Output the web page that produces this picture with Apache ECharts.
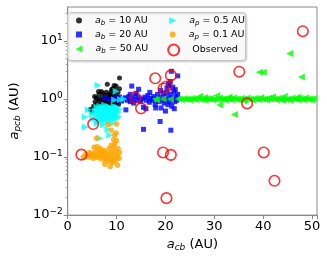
<!DOCTYPE html>
<html>
<head>
<meta charset="utf-8">
<script src="https://cdn.jsdelivr.net/npm/echarts@6/dist/echarts.min.js"></script>
<style>html,body{margin:0;padding:0;background:#fff}#c{width:327px;height:257px}</style>
</head>
<body>
<div id="c"></div>
<script>
// a_b = 10 AU (black dots)
const ab10 = [[4.6,0.66],[5.0,0.6],[5.3,0.75],[5.6,0.9],[5.8,1.05],[6.0,0.82],[6.2,1.0],[6.4,1.2],[6.5,0.95],[6.7,0.78],[6.9,1.34],[7.0,0.88],[7.2,1.25],[7.3,0.98],[7.5,0.8],[7.6,1.15],[7.8,0.92],[7.9,1.3],[8.1,1.8],[8.1,1.05],[8.2,0.85],[8.4,1.2],[8.5,0.8],[8.6,1.0],[8.8,1.3],[8.9,0.9],[9.0,1.1],[9.1,0.78],[9.2,1.5],[9.3,0.95],[9.4,1.25],[9.5,1.7],[9.6,0.85],[9.7,1.05],[9.8,1.4],[9.9,0.82],[10.0,1.15],[10.2,0.95],[10.3,1.3],[10.6,2.3],[10.4,0.8],[9.9,1.67],[10.6,1.5],[9.0,1.45],[7.3,0.7],[6.0,0.72],[5.5,1.1],[6.3,1.35],[8.3,0.7],[10.6,1.05],[7.7,1.0],[7.0,1.05],[8.7,1.15],[9.5,1.0]];
// a_b = 20 AU (blue squares)
const ab20 = [[7.6,1.04],[8.5,0.98],[9.4,1.02],[9.8,1.0],[10.2,0.95],[10.6,1.08],[11.0,0.92],[11.4,1.0],[11.8,1.05],[11.9,0.65],[12.2,0.95],[12.5,1.1],[12.8,0.9],[12.8,1.2],[13.1,1.67],[13.2,1.0],[13.5,0.85],[13.8,1.12],[14.0,1.25],[14.1,0.95],[14.5,1.47],[14.6,1.05],[14.9,0.9],[15.2,1.0],[15.5,0.72],[15.8,1.08],[16.0,0.68],[16.1,0.95],[16.4,1.15],[16.7,0.88],[16.8,1.3],[17.0,1.02],[17.3,0.95],[17.6,1.1],[17.9,0.8],[18.0,0.7],[18.1,1.0],[18.4,1.2],[18.6,0.9],[18.9,1.05],[19.0,1.4],[19.1,0.7],[19.3,0.95],[19.5,1.25],[19.7,0.85],[19.9,1.1],[20.0,0.62],[20.1,0.95],[20.3,1.3],[20.3,1.55],[20.5,0.8],[20.6,1.8],[20.7,1.05],[20.8,1.7],[20.9,0.9],[21.0,2.0],[21.1,1.2],[21.2,3.0],[21.3,0.75],[21.5,1.0],[21.5,1.6],[21.7,1.35],[21.8,0.68],[21.9,0.9],[22.0,1.45],[22.1,1.1],[22.3,0.95],[22.5,1.2],[22.5,2.5],[15.5,0.30],[18.9,0.41],[21.1,0.29]];
// a_b = 50 AU (green left triangles)
const ab50 = [[23.0,1.0],[23.4,0.97],[23.8,1.02],[24.2,0.99],[24.6,1.0],[25.0,0.96],[25.4,1.03],[25.8,1.0],[26.2,0.98],[26.6,1.04],[27.0,1.12],[27.3,0.97],[27.7,1.0],[28.1,0.95],[28.5,1.02],[28.9,0.99],[29.3,1.03],[29.7,0.96],[30.1,1.0],[30.5,1.15],[30.8,0.97],[31.1,1.04],[31.5,0.99],[31.9,1.0],[32.3,0.95],[32.7,1.03],[33.1,1.0],[33.5,0.97],[33.9,1.05],[34.3,0.99],[34.7,1.0],[35.1,0.96],[35.5,1.03],[35.9,1.0],[36.3,0.97],[36.7,1.04],[37.1,0.99],[37.5,1.0],[37.9,0.95],[38.3,1.03],[38.7,1.0],[39.1,0.97],[39.5,1.06],[39.9,0.99],[40.3,1.0],[40.7,0.96],[41.1,1.04],[41.5,0.99],[41.9,1.09],[42.3,1.0],[42.7,0.96],[43.1,1.03],[43.5,0.99],[43.9,1.01],[44.3,1.11],[44.7,0.97],[45.1,1.0],[45.5,0.95],[45.9,1.04],[46.3,0.99],[46.7,1.0],[47.1,0.96],[47.5,1.03],[47.9,1.0],[48.3,0.97],[48.7,1.05],[49.1,0.99],[49.5,1.0],[49.9,0.96],[50.3,1.02],[22.6,1.0],[21.0,0.99],[19.5,1.0],[18.2,0.96],[17.9,1.0],[31.1,0.79],[34.1,0.54],[39.2,2.9],[40.0,2.9],[45.4,6.1],[47.8,2.4],[33.0,1.08],[36.0,0.93],[28.0,1.06],[44.0,0.94],[47.0,1.07]];
// a_p = 0.5 AU (cyan right triangles)
const ap05 = [[5.6,0.6],[5.8,0.5],[6.0,0.72],[6.1,0.42],[6.3,0.55],[6.4,0.65],[6.5,0.47],[6.6,0.75],[6.8,0.58],[6.9,0.42],[7.0,0.68],[7.1,0.52],[7.2,0.45],[7.3,0.72],[7.4,0.6],[7.5,0.5],[7.6,0.78],[7.7,0.43],[7.8,0.64],[7.9,0.55],[8.0,0.7],[8.1,0.48],[8.2,0.6],[8.3,0.4],[8.4,0.74],[8.5,0.52],[8.6,0.66],[8.7,0.45],[8.8,0.58],[8.9,0.7],[9.0,0.5],[9.1,0.62],[9.2,0.43],[9.3,0.68],[9.4,0.55],[9.5,0.75],[9.6,0.47],[9.7,0.6],[9.8,0.7],[9.9,0.52],[10.0,0.64],[10.1,0.46],[10.2,0.72],[10.3,0.58],[10.4,0.5],[10.6,0.66],[6.2,0.62],[7.0,0.56],[7.7,0.66],[8.4,0.5],[9.1,0.55],[9.8,0.6],[6.7,0.5],[8.0,0.58],[3.6,0.49],[3.6,0.33],[4.2,0.65],[5.0,0.55],[6.2,1.72],[9.9,1.36],[9.6,0.96],[10.8,0.98],[11.5,1.0],[8.2,0.3],[6.6,0.21],[8.6,0.24],[6.0,0.38],[7.3,0.36],[9.2,0.38],[5.3,0.45]];
// a_p = 0.1 AU (orange dots)
const ap01 = [[3.2,0.1],[3.6,0.11],[4.0,0.1],[4.4,0.12],[4.7,0.1],[5.0,0.11],[5.2,0.095],[5.5,0.12],[5.7,0.105],[5.9,0.1],[6.1,0.13],[6.3,0.11],[6.5,0.095],[6.7,0.12],[6.9,0.1],[7.1,0.115],[7.3,0.09],[7.5,0.13],[7.6,0.105],[7.8,0.095],[8.0,0.12],[8.1,0.085],[8.3,0.11],[8.5,0.14],[8.6,0.1],[8.8,0.09],[9.0,0.125],[9.1,0.08],[9.3,0.11],[9.4,0.15],[9.6,0.095],[9.7,0.13],[9.8,0.085],[10.0,0.11],[10.2,0.1],[10.3,0.14],[10.5,0.095],[10.6,0.12],[8.7,0.069],[10.2,0.072],[7.6,0.075],[5.4,0.148],[6.0,0.15],[8.9,0.16],[9.6,0.17],[10.0,0.19],[9.4,0.2],[9.6,0.24],[9.9,0.26],[8.9,0.29],[8.3,0.36],[10.0,0.37],[5.9,0.21],[9.2,0.085],[7.0,0.13],[4.8,0.115],[6.6,0.14]];
// Observed (red open circles)
const observed = [[2.8,0.11],[5.2,0.37],[13.8,1.06],[15.0,0.69],[17.9,2.27],[21.1,2.55],[19.6,1.52],[20.2,1.64],[19.5,0.12],[21.1,0.109],[20.2,0.0196],[35.1,2.95],[36.7,0.84],[48.1,14.7],[40.1,0.12],[42.3,0.039]];

const xTicks = [0,10,20,30,40,50];
const yTicks = [0.01,0.1,1,10];
const yMinor = [0.02,0.03,0.04,0.05,0.06,0.07,0.08,0.09,0.2,0.3,0.4,0.5,0.6,0.7,0.8,0.9,2,3,4,5,6,7,8,9,20,30];

const names = ['ab10','ab20','ab50','ap05','ap01','obs'];
const FONT = 'DejaVu Sans';
const frame = '#8a8a8a';

const rich = {
  sp:{width:8},
  i:{fontStyle:'italic',fontSize:9.5,fontFamily:FONT,color:'#000',lineHeight:12},
  s:{fontStyle:'italic',fontSize:7,fontFamily:FONT,color:'#000',verticalAlign:'bottom',lineHeight:9},
  t:{fontSize:9.5,fontFamily:FONT,color:'#000',lineHeight:12}
};
const labels = {
  ab10:'{sp|}{i|a}{s|b}{t| = 10 AU}',
  ab20:'{sp|}{i|a}{s|b}{t| = 20 AU}',
  ab50:'{sp|}{i|a}{s|b}{t| = 50 AU}',
  ap05:'{sp|}{i|a}{s|p}{t| = 0.5 AU}',
  ap01:'{sp|}{i|a}{s|p}{t| = 0.1 AU}',
  obs:'{sp|}{t|Observed}'
};
const legPos = {
  ab10:{cx:79,cy:20.5,w:6},
  ab20:{cx:79,cy:34.5,w:6},
  ab50:{cx:79,cy:49,w:7},
  ap05:{cx:172.7,cy:20.5,w:7},
  ap01:{cx:172.7,cy:34.5,w:6},
  obs:{cx:172.7,cy:49.5,w:11}
};
const legends = names.map(n => ({
  data:[n], left:legPos[n].cx - legPos[n].w/2, top:legPos[n].cy - 6, z:20,
  itemWidth:legPos[n].w, itemHeight:legPos[n].w, padding:0, selectedMode:false,
  formatter: () => labels[n], textStyle:{rich:rich, fontSize:9.5, fontFamily:FONT, lineHeight:12}
}));

function supLabel(v){
  const e = Math.round(Math.log10(v));
  return '{b|10}{s|' + (e < 0 ? '\u2212' + (-e) : e) + '}';
}

const triLeft = 'path://M0,5L10,0L10,10Z';
const triRight = 'path://M10,5L0,0L0,10Z';

const option = {
  animation:false,
  backgroundColor:'#fff',
  grid:{left:62,right:10,top:7,bottom:41.5,show:true,borderColor:frame,borderWidth:1,backgroundColor:'transparent'},
  graphic:{elements:[{type:'rect',left:67,top:12,z:10,shape:{width:178,height:48,r:3},
    style:{fill:'rgba(255,255,255,0.85)',stroke:'#c4c4c4',lineWidth:1,shadowBlur:2,shadowColor:'rgba(0,0,0,0.2)',shadowOffsetX:1,shadowOffsetY:1}}]},
  legend:legends,
  xAxis:{type:'value',min:0,max:51,interval:10,
    name:'{i|a}{s|cb}{t| (AU)}',nameLocation:'middle',nameGap:21,
    nameTextStyle:{rich:{i:{fontStyle:'italic',fontSize:13,fontFamily:FONT,color:'#000',lineHeight:15},s:{fontStyle:'italic',fontSize:9,fontFamily:FONT,color:'#000',lineHeight:11,verticalAlign:'bottom'},t:{fontSize:13,fontFamily:FONT,color:'#000',lineHeight:15}}},
    axisLine:{lineStyle:{color:frame,width:1}},
    axisTick:{length:4,lineStyle:{color:frame}},
    axisLabel:{customValues:xTicks,fontSize:13,fontFamily:FONT,color:'#000',margin:5},
    splitLine:{show:false}},
  yAxis:[{type:'log',logBase:10,min:0.01,max:38.4,
    name:'{i|a}{s|pcb}{t| (AU)}',nameLocation:'middle',nameGap:40,
    nameTextStyle:{rich:{i:{fontStyle:'italic',fontSize:13,fontFamily:FONT,color:'#000',lineHeight:15},s:{fontStyle:'italic',fontSize:9,fontFamily:FONT,color:'#000',lineHeight:11,verticalAlign:'bottom'},t:{fontSize:13,fontFamily:FONT,color:'#000',lineHeight:15}}},
    axisLine:{show:true,lineStyle:{color:frame,width:1}},
    axisTick:{show:true,customValues:yTicks,length:4,lineStyle:{color:frame}},
    axisLabel:{customValues:yTicks,formatter:supLabel,margin:5,
      rich:{b:{fontSize:13,fontFamily:FONT,color:'#000',lineHeight:16},s:{fontSize:9,fontFamily:FONT,color:'#000',verticalAlign:'top',lineHeight:10}}},
    splitLine:{show:false}},
   {type:'log',logBase:10,min:0.01,max:38.4,position:'left',
    axisLine:{show:false},
    axisTick:{show:true,customValues:yMinor,length:2,lineStyle:{color:frame,width:0.8}},
    axisLabel:{show:false},splitLine:{show:false}}],
  series:[
    {name:'ab10',type:'scatter',data:ab10,symbol:'circle',symbolSize:5,itemStyle:{color:'#000000'},z:2},
    {name:'ab20',type:'scatter',data:ab20,symbol:'rect',symbolSize:5,itemStyle:{color:'#0000ff'},z:2},
    {name:'ab50',type:'scatter',data:ab50,symbol:triLeft,symbolSize:[7,7],itemStyle:{color:'#00ff00'},z:2},
    {name:'ap05',type:'scatter',data:ap05,symbol:triRight,symbolSize:[7,7],itemStyle:{color:'#00ffff'},z:2},
    {name:'ap01',type:'scatter',data:ap01,symbol:'circle',symbolSize:5.5,itemStyle:{color:'#ffa500'},z:2},
    {name:'obs',type:'scatter',data:observed,symbol:'circle',symbolSize:10.5,itemStyle:{color:'rgba(0,0,0,0)',borderColor:'#ff0000',borderWidth:1.6},z:2}
  ]
};
const chart = echarts.init(document.getElementById('c'),null,{renderer:'canvas'});
chart.setOption(option);
</script>
</body>
</html>
